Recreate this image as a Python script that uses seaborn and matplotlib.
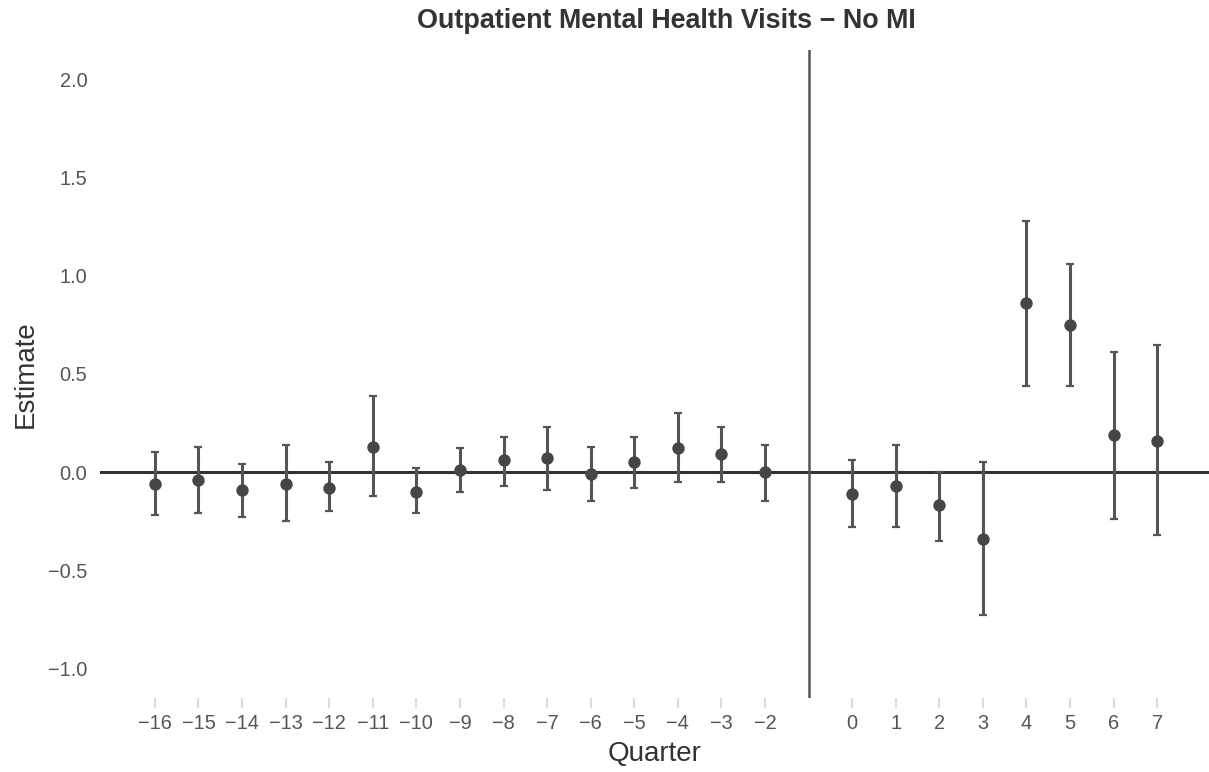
import pandas as pd
import seaborn as sns
import matplotlib.pyplot as plt

# Event-study estimates (quarter -1 is the reference period)
quarters = [-16, -15, -14, -13, -12, -11, -10, -9, -8, -7, -6, -5, -4, -3, -2,
            0, 1, 2, 3, 4, 5, 6, 7]
estimate = [-0.06, -0.04, -0.09, -0.06, -0.08, 0.13, -0.10, 0.01, 0.06, 0.07, -0.01, 0.05, 0.12, 0.09, 0.00,
            -0.11, -0.07, -0.17, -0.34, 0.86, 0.75, 0.19, 0.16]
ci_low = [-0.22, -0.21, -0.23, -0.25, -0.20, -0.12, -0.21, -0.10, -0.07, -0.09, -0.15, -0.08, -0.05, -0.05, -0.15,
          -0.28, -0.28, -0.35, -0.73, 0.44, 0.44, -0.24, -0.32]
ci_high = [0.10, 0.13, 0.04, 0.14, 0.05, 0.39, 0.02, 0.12, 0.18, 0.23, 0.13, 0.18, 0.30, 0.23, 0.14,
           0.06, 0.14, 0.00, 0.05, 1.28, 1.06, 0.61, 0.65]

df = pd.DataFrame({"Quarter": quarters, "Estimate": estimate,
                   "low": ci_low, "high": ci_high})

sns.set_theme(style="white")
plt.rcParams['font.family'] = ['Liberation Sans', 'DejaVu Sans']

fig = plt.figure(figsize=(12.09, 7.72), dpi=100)
ax = fig.add_axes([100 / 1209, 1 - 698 / 772, 1109 / 1209, 648 / 772])

# reference lines
ax.axhline(0, color="#333333", lw=2.2, zorder=1)
ax.axvline(-1, color="#555555", lw=1.8, zorder=1)

# confidence intervals
ax.errorbar(df["Quarter"], df["Estimate"],
            yerr=[df["Estimate"] - df["low"], df["high"] - df["Estimate"]],
            fmt="none", ecolor="#555555", elinewidth=2.2, capsize=2.9,
            capthick=1.6, zorder=2)

# point estimates
sns.scatterplot(data=df, x="Quarter", y="Estimate", ax=ax, s=80,
                color="#464646", edgecolor="#464646", linewidth=0, zorder=3)

ax.set_xlim(-17.26, 8.19)
ax.set_ylim(-1.153, 2.153)
ax.set_xticks(quarters)
ax.set_xticklabels([str(q).replace("-", "\u2212") for q in quarters])
ax.set_yticks([-1.0, -0.5, 0.0, 0.5, 1.0, 1.5, 2.0])
ax.set_yticklabels(["\u22121.0", "\u22120.5", "0.0", "0.5", "1.0", "1.5", "2.0"])

ax.tick_params(axis="x", length=7.5, width=1.6, color="#dddddd",
               labelsize=14.4, labelcolor="#555555", pad=4, bottom=True)
ax.tick_params(axis="y", length=0, labelsize=14.4, labelcolor="#555555", pad=9)

for s in ax.spines.values():
    s.set_visible(False)

ax.set_xlabel("Quarter", fontsize=20, color="#333333", labelpad=6)
ax.set_ylabel("Estimate", fontsize=20, color="#333333", labelpad=7)
fig.text(666 / 1209, 1 - 21 / 772, "Outpatient Mental Health Visits \u2212 No MI",
         ha="center", va="center", fontsize=19.4, fontweight="bold", color="#333333")

fig.savefig("out.png", dpi=100)
